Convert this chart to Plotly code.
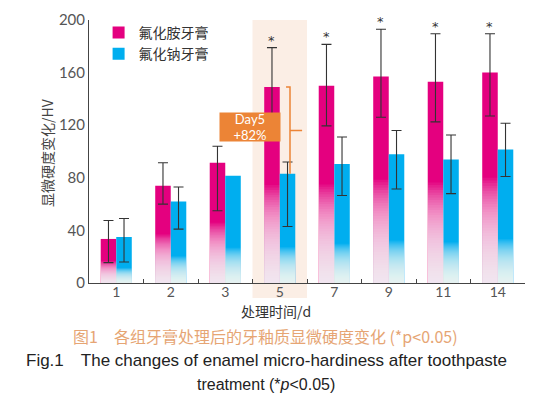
import plotly.graph_objects as go

categories = ['1', '2', '3', '5', '7', '9', '11', '14']
pink_vals = [33.5, 74, 91.5, 149, 150, 157, 153, 160]
pink_hi = [47.5, 91.5, 104, 179, 181.5, 193, 189.5, 189.5]
pink_lo = [15.5, 60, 55, 119, 119.5, 126, 122.5, 127]
blue_vals = [35, 62, 81.5, 83, 90.5, 98, 94, 101.5]
blue_hi = [49, 73, None, 92, 111, 116, 112.5, 121.5]
blue_lo = [16, 41, None, 43, 66.5, 71.5, 68, 81]
star_cats = ['5', '7', '9', '11', '14']
series_names = ['氟化胺牙膏', '氟化钠牙膏']

PINK = '#E4007F'
BLUE = '#00AEEF'
BW = 0.285

# page has 8px body margin; compensate
OFF = 8
W, H = 555 - OFF, 397 - OFF
L, T = 89 - OFF, 20 - OFF
R = W - (525 - OFF)
B = H - (283 - OFF)
pw, ph = W - L - R, H - T - B


def px_x(x):  # page pixel -> paper
    return (x - OFF - L) / pw


def px_y(y):
    return (H - B - (y - OFF)) / ph


fig = go.Figure()

series = [
    (series_names[0], pink_vals, pink_hi, pink_lo, PINK, -BW, 0.5, 40),
    (series_names[1], blue_vals, blue_hi, blue_lo, BLUE, 0.0, 0.33, 40),
]

# main bars
for name, vals, hi, lo, col, off, frac, n in series:
    fig.add_trace(go.Bar(x=categories, y=vals, name=name, marker=dict(color=col, line=dict(width=0)),
                         width=BW, offset=off, showlegend=True))

# white fade layers (gradient emulation)
for name, vals, hi, lo, col, off, frac, n in series:
    a = 1 - 0.08 ** (1.0 / n)
    for k in range(1, n + 1):
        f = frac * k / n
        fig.add_trace(go.Bar(x=categories, y=[v * f for v in vals], width=BW, offset=off,
                             marker=dict(color='rgba(255,255,255,%.4f)' % a, line=dict(width=0)),
                             showlegend=False, hoverinfo='skip'))

# error bars on top (only where defined)
for name, vals, hi, lo, col, off, frac, n in series:
    idx = [i for i in range(len(categories)) if hi[i] is not None]
    fig.add_trace(go.Bar(x=[categories[i] for i in idx], y=[vals[i] for i in idx], width=BW, offset=off,
                         marker=dict(color='rgba(0,0,0,0)', line=dict(width=0)),
                         error_y=dict(type='data', symmetric=False,
                                      array=[hi[i] - vals[i] for i in idx],
                                      arrayminus=[vals[i] - lo[i] for i in idx], color='#333333',
                                      thickness=1.1, width=5),
                         showlegend=False, hoverinfo='skip'))

# highlight band for day 5
i5 = categories.index('5')
fig.add_shape(type='rect', xref='x domain', yref='paper',
              x0=i5 / len(categories), x1=(i5 + 1) / len(categories),
              y0=px_y(298), y1=1.0, fillcolor='#FBEEE5', line=dict(width=0), layer='below')

# stars
for c in star_cats:
    i = categories.index(c)
    fig.add_annotation(x=i - BW / 2, y=pink_hi[i], text='*', showarrow=False, yanchor='bottom',
                       yshift=-2, font=dict(size=13, color='#333333', family='DejaVu Sans'))

# bracket day 5
p5, b5 = pink_vals[i5], blue_vals[i5]
mid = (p5 + b5) / 2
xa, xb, xc = i5 + 0.115, i5 + 0.188, i5 + 0.41
fig.add_shape(type='path', xref='x', yref='y',
              path=f'M {xa},{p5} L {xb},{p5} L {xb},{b5} M {xb},{mid} L {xc},{mid}',
              line=dict(color='#EC8436', width=1.5))

# orange label box
fig.add_annotation(x=i5 - 0.555, y=mid + 3, text='Day5<br>+82%', showarrow=False,
                   bgcolor='#EC8436', width=58, height=26, borderpad=1,
                   xanchor='center', yanchor='middle',
                   font=dict(size=13, color='white', family='Lato'))


def label(x, y, text, size, color, family, angle=0):
    fig.add_annotation(xref='paper', yref='paper', x=px_x(x), y=px_y(y), text=text,
                       textangle=angle, showarrow=False, xanchor='center', yanchor='middle',
                       font=dict(size=size, color=color, family=family))


# axis titles
label(276, 311, '处理时间/d', 14, '#333333', 'Noto Sans CJK SC')
label(47, 153, '显微硬度变化/HV', 14, '#444444', 'Noto Sans CJK SC', -90)

# captions
label(265, 336, '图1\u3000各组牙膏处理后的牙釉质显微硬度变化 (*p<0.05)', 16, '#E6A574', 'Noto Sans CJK SC')
label(266, 360, 'Fig.1\u2003The changes of enamel micro-hardiness after toothpaste', 17, '#222222',
      'Liberation Sans')
label(266, 384, 'treatment (*<i>p</i><0.05)', 16, '#222222', 'Liberation Sans')

fig.update_layout(
    width=W, height=H, margin=dict(l=L, r=R, t=T, b=B, autoexpand=False),
    paper_bgcolor='white', plot_bgcolor='rgba(0,0,0,0)',
    barmode='overlay',
    legend=dict(x=0.022, y=1.012, xanchor='left', yanchor='top', bgcolor='rgba(0,0,0,0)',
                font=dict(size=14, color='#333333', family='Noto Sans CJK SC'),
                itemwidth=30, tracegroupgap=2),
    xaxis=dict(type='category', categoryorder='array', categoryarray=categories,
               range=[-0.5, len(categories) - 0.5], showline=True, linecolor='#444444', linewidth=1,
               ticks='inside', tickson='boundaries', ticklen=4, tickcolor='#444444',
               showgrid=False, zeroline=False, automargin=False, ticklabelstandoff=-4,
               tickfont=dict(size=14, color='#555555', family='Lato')),
    yaxis=dict(range=[0, 200], tickvals=[0, 40, 80, 120, 160, 200], showline=True,
               linecolor='#444444', linewidth=1, ticks='', showgrid=False, zeroline=False,
               automargin=False,
               tickfont=dict(size=15, color='#555555', family='Lato')),
    showlegend=True,
)

fig.write_html('out.html')
